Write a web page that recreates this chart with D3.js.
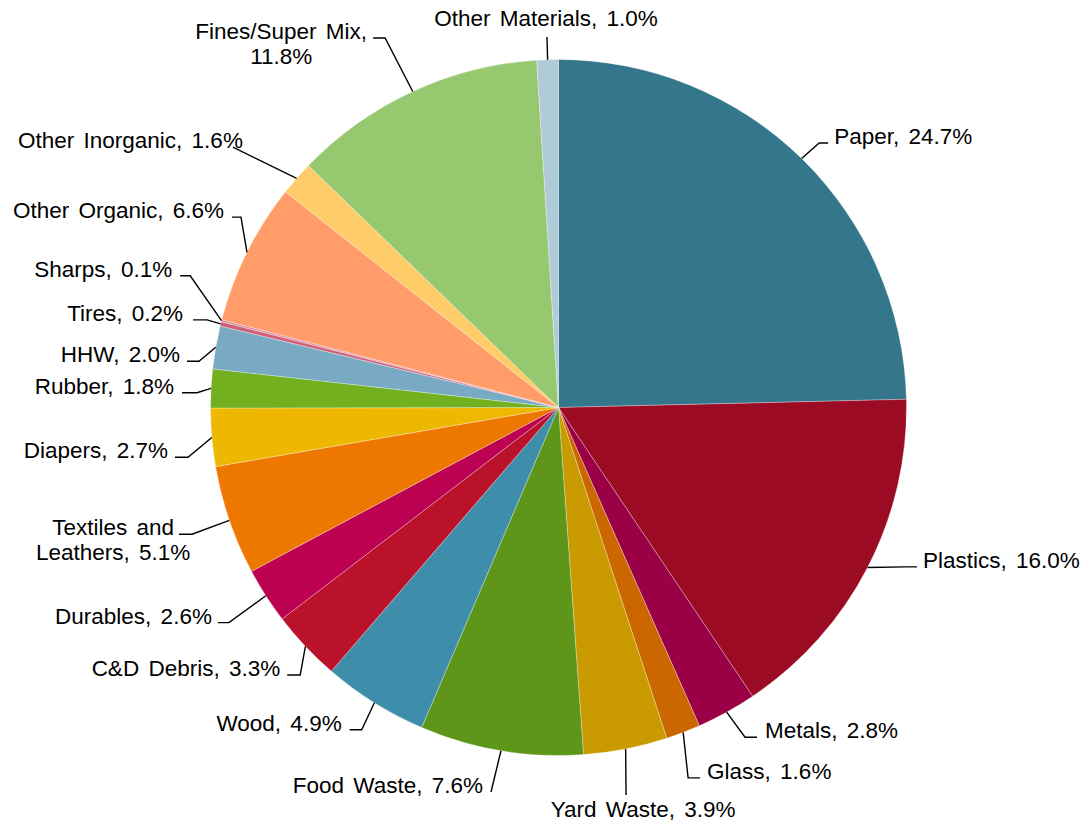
<!DOCTYPE html>
<html>
<head>
<meta charset="utf-8">
<script src="https://cdn.jsdelivr.net/npm/d3@7"></script>
<style>
  html, body { margin: 0; padding: 0; background: #fff; }
  svg { display: block; }
  .lbl { font-family: "Liberation Sans", Arial, sans-serif; font-size: 22.5px; word-spacing: 3px; fill: #000; }
</style>
</head>
<body>
<svg id="chart" width="1086" height="825"></svg>
<script>
// Waste composition by material (percent of total)
const categories = [
  "Paper", "Plastics", "Metals", "Glass", "Yard Waste", "Food Waste", "Wood",
  "C&D Debris", "Durables", "Textiles and Leathers", "Diapers", "Rubber", "HHW",
  "Tires", "Sharps", "Other Organic", "Other Inorganic", "Fines/Super Mix",
  "Other Materials"
];
const values = [
  24.7, 16.0, 2.8, 1.6, 3.9, 7.6, 4.9,
  3.3, 2.6, 5.1, 2.7, 1.8, 2.0,
  0.2, 0.1, 6.6, 1.6, 11.8,
  1.0
];
const colors = [
  "#34768c", "#9c0b24", "#9b0046", "#cc6600", "#c99b00", "#5d9619", "#3e8eab",
  "#b9122a", "#bc0052", "#ee7700", "#eeb800", "#72b01f", "#78abc3",
  "#cf6079", "#e48aa0", "#ff9c6a", "#ffcc6a", "#96c86f",
  "#b1cad7"
];

// Label placement: offset of the leader's label end from the slice's rim point,
// side of the label, horizontal stub length, gap to the text and optional line break.
const labelLayout = [
  { dx: 26.5, dy: -15.5, side: "right", stub: 9,  gap: 6 },
  { dx: 49.5, dy: -0.6,  side: "right", stub: 12, gap: 6 },
  { dx: 30.4, dy: 25,    side: "right", stub: 12, gap: 8 },
  { dx: 16.9, dy: 45.5,  side: "right", stub: 12, gap: 7 },
  { dx: 0.4,  dy: 46,    side: "below", tx: 17, ty: 22 },
  { dx: -10,  dy: 41.3,  side: "left",  stub: 0,  gap: 8 },
  { dx: -24.7, dy: 27,   side: "left",  stub: 12, gap: 8 },
  { dx: -18.2, dy: 28.7, side: "left",  stub: 13, gap: 7 },
  { dx: -47.9, dy: 26.9, side: "left",  stub: 11, gap: 6 },
  { dx: -50.3, dy: 13.8, side: "left",  stub: 13, gap: 5, breakAfter: 2 },
  { dx: -36.8, dy: 19.8, side: "left",  stub: 13, gap: 7 },
  { dx: -29,  dy: 4.3,   side: "left",  stub: 15, gap: 8 },
  { dx: -28.8, dy: 14,   side: "left",  stub: 12, gap: 7 },
  { dx: -27.6, dy: -4,   side: "left",  stub: 14, gap: 10 },
  { dx: -41.3, dy: -44.9, side: "left", stub: 10, gap: 8 },
  { dx: -15,  dy: -35.3, side: "left",  stub: 9,  gap: 8 },
  { dx: -63.7, dy: -31.2, side: "left", stub: 0,  gap: -10 },
  { dx: -39.6, dy: -53.5, side: "left", stub: 12, gap: 6, breakAfter: 2 },
  { dx: -0.6, dy: -22.7, side: "above", tx: -1, ty: -11 }
];

const width = 1086, height = 825;
const cx = 558.5, cy = 407.5, radius = 348;

const svg = d3.select("#chart");
const g = svg.append("g").attr("transform", `translate(${cx},${cy})`);

const rows = categories.map((name, i) => ({ name, value: values[i], color: colors[i], layout: labelLayout[i] }));

const pie = d3.pie().value(d => d.value).sort(null).startAngle(0).endAngle(2 * Math.PI);
const arcs = pie(rows);
const arc = d3.arc().innerRadius(0).outerRadius(radius);

g.selectAll("path.slice")
  .data(arcs)
  .join("path")
  .attr("class", "slice")
  .attr("d", arc)
  .attr("fill", d => d.data.color)
  .attr("stroke", "#ffffff")
  .attr("stroke-width", 0.5)
  .attr("stroke-opacity", 0.6);

// Leader lines and labels
const labels = svg.append("g");
const fmt = d3.format(".1f");

arcs.forEach(d => {
  const L = d.data.layout;
  const mid = (d.startAngle + d.endAngle) / 2;
  const ex = cx + radius * Math.sin(mid);
  const ey = cy - radius * Math.cos(mid);
  const ax = ex + L.dx, ay = ey + L.dy;
  const words = `${d.data.name}, ${fmt(d.data.value)}%`.split(" ");
  const lines = L.breakAfter
    ? [words.slice(0, L.breakAfter).join(" "), words.slice(L.breakAfter).join(" ")]
    : [words.join(" ")];

  let pts;
  if (L.side === "right") pts = [[ex, ey], [ax - L.stub, ay], [ax, ay]];
  else if (L.side === "left") pts = [[ex, ey], [ax + L.stub, ay], [ax, ay]];
  else pts = [[ex, ey], [ax, ay]];

  labels.append("path")
    .attr("d", d3.line()(pts))
    .attr("fill", "none")
    .attr("stroke", "#000")
    .attr("stroke-width", 1.4);

  const t = labels.append("text").attr("class", "lbl");

  if (L.side === "right") {
    t.attr("x", ax + L.gap).attr("y", ay + 1).attr("text-anchor", "start").text(lines[0]);
  } else if (L.side === "above" || L.side === "below") {
    t.attr("x", ax + L.tx).attr("y", ay + L.ty).attr("text-anchor", "middle").text(lines[0]);
  } else if (lines.length === 1) {
    t.attr("x", ax - L.gap).attr("y", ay + 1).attr("text-anchor", "end").text(lines[0]);
  } else {
    // multi-line block, lines centred; first line's right end sits next to the stub
    t.text(lines[0]);
    const w1 = t.node().getComputedTextLength();
    t.text(null);
    const centerX = ax - L.gap - w1 / 2;
    lines.forEach((ln, k) => {
      t.append("tspan")
        .attr("x", centerX)
        .attr("y", ay + 1 + k * 25)
        .attr("text-anchor", "middle")
        .text(ln);
    });
  }
});
</script>
</body>
</html>
